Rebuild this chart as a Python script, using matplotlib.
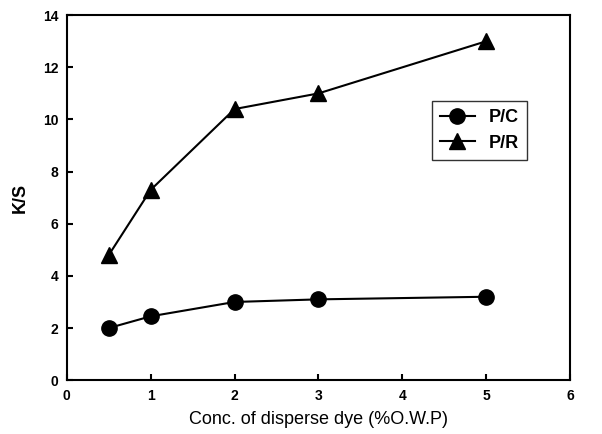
import matplotlib
matplotlib.use("Agg")
import matplotlib.pyplot as plt

# concentration of disperse dye (%o.w.p)
conc = [0.5, 1, 2, 3, 5]
ks_pc = [2.0, 2.45, 3.0, 3.1, 3.2]
ks_pr = [4.8, 7.3, 10.4, 11.0, 13.0]

x_ticks = [0, 1, 2, 3, 4, 5, 6]
y_ticks = [0, 2, 4, 6, 8, 10, 12, 14]

plt.rcParams["font.family"] = ["Liberation Sans", "DejaVu Sans"]

fig = plt.figure(figsize=(6.02, 4.34), dpi=100)
ax = fig.add_axes([0.111, 0.124, 0.836, 0.841])

ax.plot(conc, ks_pc, color="black", lw=1.5, marker="o", ms=11, label="P/C")
ax.plot(conc, ks_pr, color="black", lw=1.5, marker="^", ms=11, label="P/R")

ax.set_xlim(0, 6)
ax.set_ylim(0, 14)
ax.set_xticks(x_ticks)
ax.set_yticks(y_ticks)
ax.tick_params(direction="in", length=4, width=1.5, labelsize=10, pad=6)
for lbl in ax.get_xticklabels() + ax.get_yticklabels():
    lbl.set_fontweight("bold")
for spine in ax.spines.values():
    spine.set_linewidth(1.5)

ax.set_xlabel("Conc. of disperse dye (%O.W.P)", fontsize=13, labelpad=6)
ax.set_ylabel("K/S", fontsize=13, fontweight="bold", labelpad=10)

# legend box sits right of the P/R curve, upper middle of the plot
leg = ax.legend(loc="upper left", bbox_to_anchor=(0.726, 0.764),
                prop={"size": 13, "weight": "bold"},
                frameon=True, fancybox=False, edgecolor="black",
                handlelength=1.9, borderpad=0.45, labelspacing=0.45,
                handletextpad=0.8, borderaxespad=0)
leg.get_frame().set_linewidth(1.0)

fig.savefig("out.png", dpi=100)
